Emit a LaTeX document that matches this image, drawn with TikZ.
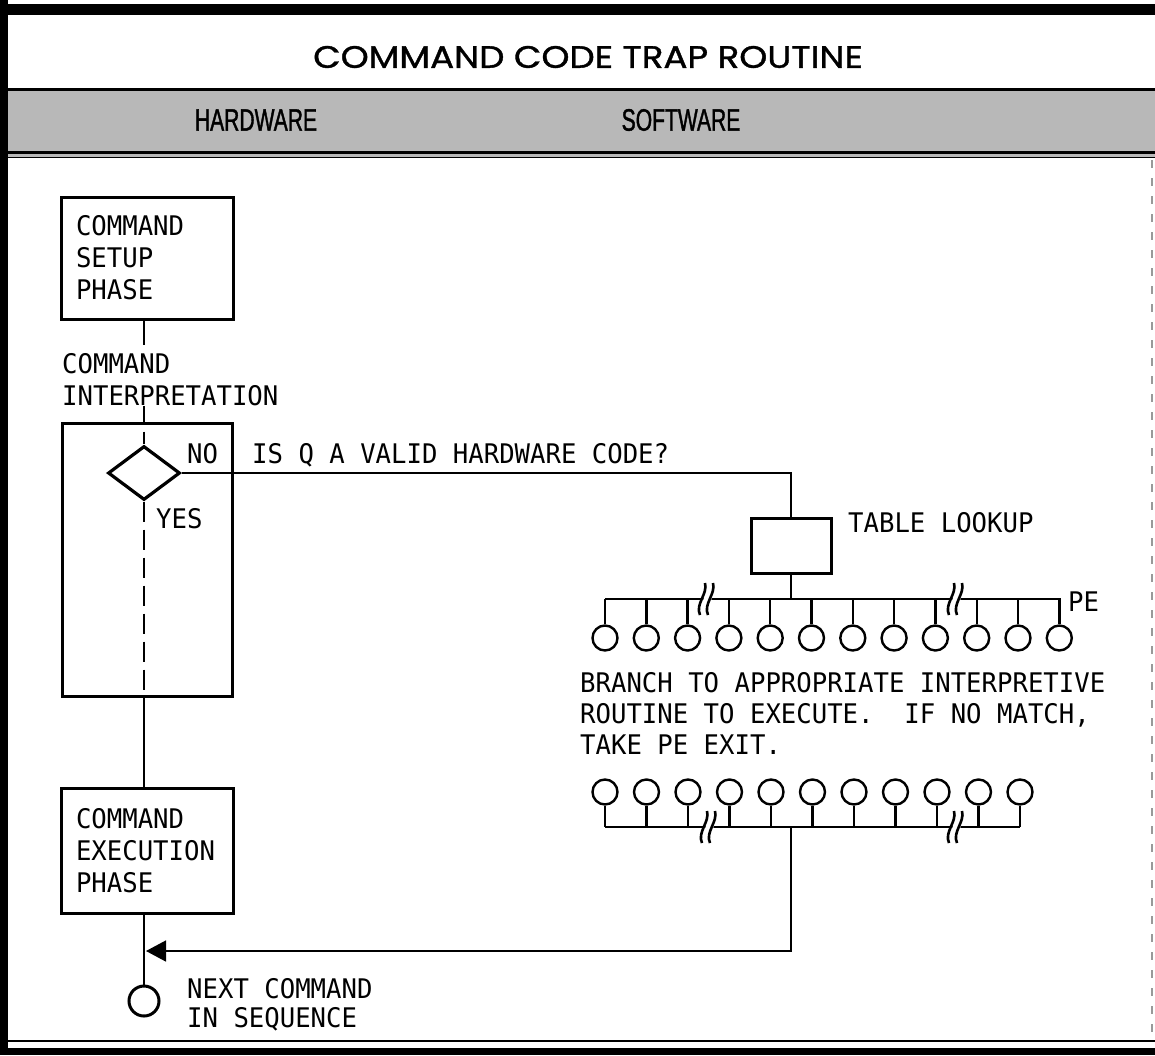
\documentclass[tikz,border=0pt]{standalone}
\usepackage{fontspec}
\setmonofont[FakeStretch=0.95]{DejaVu Sans Mono}
\newfontfamily\titlefont[FakeStretch=1.15,FakeBold=1.2]{Poppins}
\newfontfamily\condfont[FakeStretch=0.68,FakeBold=1.2]{Liberation Sans}
\usetikzlibrary{shapes.geometric,arrows.meta}
\tikzset{
  mono/.style={font=\ttfamily\fontsize{27}{32}\selectfont, inner sep=0pt, align=left},
  pbox/.style={draw, line width=3pt, minimum width=172pt, minimum height=122pt, inner sep=0pt,
               text width=142pt, align=left, font=\ttfamily\fontsize{27}{32}\selectfont},
  thinline/.style={line width=1.6pt},
  busline/.style={line width=2.4pt},
  term/.style={draw, circle, line width=2.4pt, minimum size=25pt, inner sep=0pt},
  brkmark/.pic={
    \fill[white] (-7,13) -- (-2,-13) -- (6,-13) -- (1,13) -- cycle;
    \draw[line width=2.6pt] (-8,16) .. controls (-13,5) and (0,-5) .. (-3,-16);
    \draw[line width=2.6pt] (0,16) .. controls (-5,5) and (8,-5) .. (5,-16);
  }
}
\begin{document}
\begin{tikzpicture}[x=1pt,y=-1pt]
\useasboundingbox (0,0) rectangle (1155,1055);
% frame
\fill[white] (0,0) rectangle (1155,1055);
\fill[black!28] (8,90) rectangle (1155,157);
\fill[black] (0,4) rectangle (1155,15);
\fill[black] (0,0) rectangle (8,1055);
\draw[line width=3pt] (8,89) -- (1155,89);
\draw[line width=3pt] (8,152) -- (1155,152);
\draw[line width=1.5pt] (8,157.5) -- (1155,157.5);
\draw[line width=1.5pt] (8,1041) -- (1155,1041);
\fill[black] (0,1048) rectangle (1155,1055);
\draw[black!40, line width=1.5pt, dash pattern=on 8pt off 10pt] (1152,160) -- (1152,1038);

% headings
\node[font=\titlefont\fontsize{31}{34}\selectfont, inner sep=0pt] (title) at (588,57) {COMMAND CODE TRAP ROUTINE};
\node[font=\condfont\fontsize{31}{33}\selectfont, inner sep=0pt] (hw) at (256,120) {HARDWARE};
\node[font=\condfont\fontsize{31}{33}\selectfont, inner sep=0pt] (sw) at (681,120) {SOFTWARE};

% hardware column
\node[pbox] (setup) at (147,258) {COMMAND\\SETUP\\PHASE};
\node[mono, anchor=north west] (cilab) at (62,353) {COMMAND\\INTERPRETATION};
\node[draw, line width=3pt, minimum width=170pt, minimum height=273pt, inner sep=0pt] (ibox) at (147,559.5) {};
\node[diamond, draw, line width=3.2pt, minimum width=72pt, minimum height=54pt, inner sep=0pt] (dia) at (144,473) {};
\node[mono, anchor=north west] (no) at (187,443) {NO};
\node[mono, anchor=north west] (yes) at (156,508) {YES};
\node[mono, anchor=north west] (q) at (252,443) {IS Q A VALID HARDWARE CODE?};
\node[pbox, minimum height=125pt] (exec) at (147,850.5) {COMMAND\\EXECUTION\\PHASE};
\node[term, line width=3pt, minimum size=30pt] (nextc) at (144,1001) {};
\node[mono, anchor=north west, font=\ttfamily\fontsize{27}{29}\selectfont] (nextlab) at (187,978) {NEXT COMMAND\\IN SEQUENCE};

\draw[thinline] (setup.south -| dia.north) -- ([yshift=8pt]cilab.north -| dia.north);
\draw[thinline] (cilab.south -| dia.north) -- (ibox.north -| dia.north);
\draw[thinline] ([yshift=-10pt]ibox.north -| dia.north) -- (dia.north);
\draw[thinline, dash pattern=on 20pt off 8pt] (dia.south) -- (ibox.south -| dia.south);
\draw[thinline] (ibox.south -| dia.south) -- (exec.north -| dia.south);
\draw[thinline] (exec.south -| dia.south) -- (nextc.north);

% software column
\node[draw, line width=3pt, minimum width=80pt, minimum height=55pt, inner sep=0pt] (tbl) at (791,545.5) {};
\node[mono, anchor=north west] (tbllab) at (848,512) {TABLE LOOKUP};
\draw[thinline] (dia.east) -| (tbl.north);

\coordinate (ub) at (791,599);
\draw[thinline] (tbl.south) -- (ub);
\foreach \i in {0,...,11} {
  \node[term] (u\i) at ({605+41.3*\i},638) {};
}
\foreach \i in {0,...,10} {
  \draw[busline] (u\i.north) -- (u\i.north |- ub);
}
\draw[busline, line join=miter] (u0.north |- ub) -- (u11.north |- ub) -- (u11.north);
\pic at (708,599) {brkmark};
\pic at (957,599) {brkmark};
\node[mono, anchor=north west] (pe) at (1068,592) {PE};

\node[mono, anchor=north west, font=\ttfamily\fontsize{27}{31}\selectfont] (branch) at (580,672)
  {BRANCH TO APPROPRIATE INTERPRETIVE\\ROUTINE TO EXECUTE.\ \ IF NO MATCH,\\TAKE PE EXIT.};

\coordinate (lb) at (791,827);
\foreach \i in {0,...,10} {
  \node[term] (l\i) at ({605+41.5*\i},792) {};
  \draw[busline] (l\i.south) -- (l\i.south |- lb);
}
\draw[busline] (l0.south |- lb) -- (l10.south |- lb);
\pic at (710,827) {brkmark};
\pic at (957,827) {brkmark};

\coordinate (turn) at (791,951);
\draw[thinline, -{Triangle[length=20pt,width=21pt]}] (lb) -- (turn) -- ([xshift=2pt]turn -| nextc.north);
\end{tikzpicture}
\end{document}
